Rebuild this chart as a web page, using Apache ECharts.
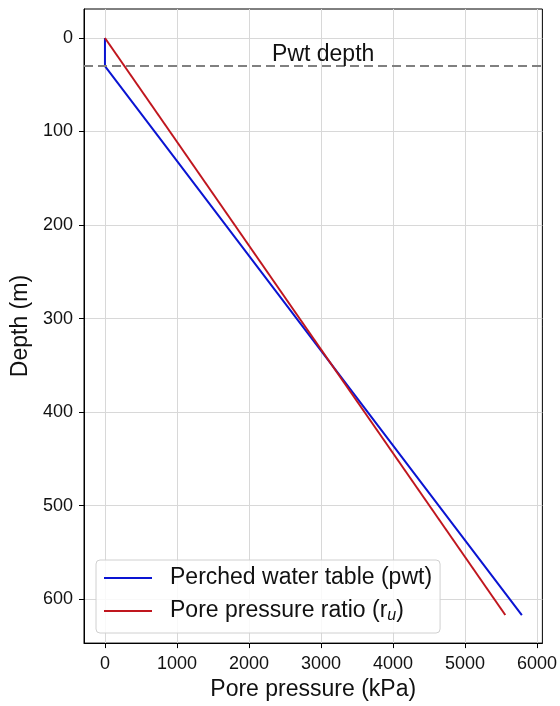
<!DOCTYPE html>
<html>
<head>
<meta charset="utf-8">
<script src="https://cdn.jsdelivr.net/npm/echarts@6/dist/echarts.min.js"></script>
<style>
  html, body { margin: 0; padding: 0; background: #fff; }
  #chart { width: 560px; height: 706px; }
</style>
</head>
<body>
<div id="chart"></div>
<script>
// perched water table profile (depth m, pressure kPa)
const pwtDepth = [0, 30, 617];
const pwtPressure = [0, 0, 5790];
// pore pressure ratio profile
const ruDepth = [0, 617];
const ruPressure = [0, 5560];

const pwtLevel = 30;
const xTicks = [0, 1000, 2000, 3000, 4000, 5000, 6000];
const yTicks = [0, 100, 200, 300, 400, 500, 600];

const FONT = '"Liberation Sans", Arial, sans-serif';
const chart = echarts.init(document.getElementById('chart'), null, { renderer: 'canvas' });

const toPairs = (xs, ys) => xs.map((x, i) => [x, ys[i]]);

const option = {
  animation: false,
  backgroundColor: '#fff',
  textStyle: { fontFamily: FONT },
  grid: {
    left: 84, top: 9, width: 459, height: 637,
    show: true, borderColor: '#000', borderWidth: 1,
    backgroundColor: 'transparent'
  },
  xAxis: {
    type: 'value',
    min: -291, max: 6075,
    name: 'Pore pressure (kPa)',
    nameLocation: 'middle',
    nameGap: 33,
    nameTextStyle: { fontSize: 23, color: '#111', fontFamily: FONT },
    axisLine: { show: true, onZero: false, lineStyle: { color: '#000', width: 1 } },
    axisTick: { show: true, inside: false, length: 5, lineStyle: { color: '#000' }, customValues: xTicks },
    axisLabel: {
      fontSize: 18, color: '#111', margin: 12, fontFamily: FONT, customValues: xTicks,
      formatter: (v) => String(v)
    },
    splitLine: { show: true, lineStyle: { color: '#d8d8d8', width: 1 } }
  },
  yAxis: {
    type: 'value',
    inverse: true,
    min: -31, max: 647,
    name: 'Depth (m)',
    nameLocation: 'middle',
    nameGap: 47,
    nameTextStyle: { fontSize: 23, color: '#111', fontFamily: FONT },
    axisLine: { show: true, onZero: false, lineStyle: { color: '#000', width: 1 } },
    axisTick: { show: true, inside: false, length: 5, lineStyle: { color: '#000' }, customValues: yTicks },
    axisLabel: {
      fontSize: 18, color: '#111', margin: 11, fontFamily: FONT, customValues: yTicks,
      formatter: (v) => String(v)
    },
    splitLine: { show: true, lineStyle: { color: '#d8d8d8', width: 1 } }
  },
  legend: {
    orient: 'vertical',
    left: 96, top: 560,
    padding: [5, 8, 9, 8],
    itemGap: 7,
    itemWidth: 48,
    itemHeight: 2,
    icon: 'rect',
    backgroundColor: 'rgba(255,255,255,0.85)',
    borderColor: '#d0d0d0',
    borderWidth: 1,
    borderRadius: 4,
    formatter: function (name) {
      if (name === 'Pore pressure ratio (ru)') return 'Pore pressure ratio (r{sub|u})';
      return name;
    },
    textStyle: {
      fontSize: 23, color: '#111', fontFamily: FONT, padding: [0, 0, 0, 13],
      lineHeight: 26,
      rich: {
        sub: { fontSize: 16, fontStyle: 'italic', color: '#111', fontFamily: FONT, verticalAlign: 'bottom', lineHeight: 26 }
      }
    },
    data: ['Perched water table (pwt)', 'Pore pressure ratio (ru)']
  },
  series: [
    {
      name: 'Perched water table (pwt)',
      type: 'line',
      data: toPairs(pwtPressure, pwtDepth),
      showSymbol: false,
      symbol: 'none',
      color: '#0a14d2',
      lineStyle: { color: '#0a14d2', width: 2 },
      z: 3,
      markLine: {
        silent: true,
        symbol: 'none',
        data: [{ yAxis: pwtLevel }],
        lineStyle: { color: '#808080', type: [9, 5], width: 2 },
        label: {
          show: true,
          position: 'insideMiddleTop',
          formatter: 'Pwt depth',
          fontSize: 23,
          color: '#111',
          fontFamily: FONT,
          distance: 0,
          offset: [10, 0]
        }
      }
    },
    {
      name: 'Pore pressure ratio (ru)',
      type: 'line',
      data: toPairs(ruPressure, ruDepth),
      showSymbol: false,
      symbol: 'none',
      color: '#c0161e',
      lineStyle: { color: '#c0161e', width: 2 },
      z: 4
    }
  ]
};

chart.setOption(option);
</script>
</body>
</html>
